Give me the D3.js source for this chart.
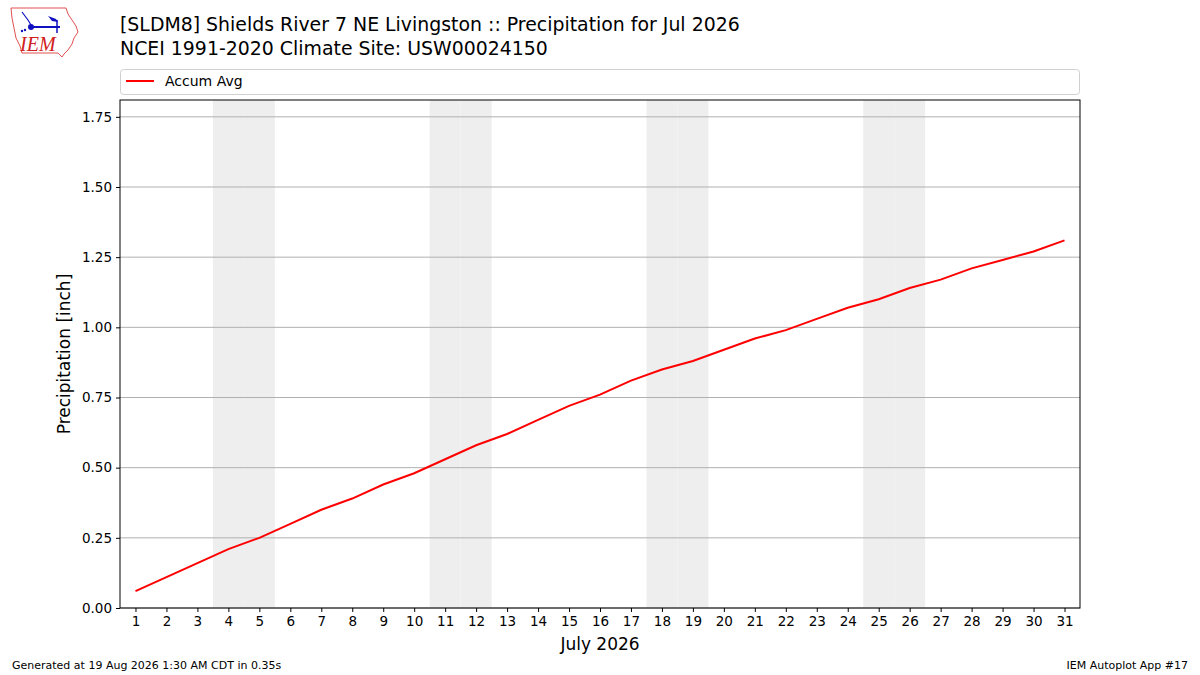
<!DOCTYPE html>
<html><head><meta charset="utf-8">
<script src="https://cdn.jsdelivr.net/npm/d3@7"></script>
<style>body{margin:0;background:#fff;} svg{display:block;font-family:"DejaVu Sans",sans-serif;}</style>
</head><body>
<svg id="c" width="1200" height="675"></svg>
<script>
const days = d3.range(1, 32);
const accumAvg = [0.06,0.11,0.16,0.21,0.25,0.30,0.35,0.39,0.44,0.48,0.53,0.58,0.62,0.67,0.72,0.76,0.81,0.85,0.88,0.92,0.96,0.99,1.03,1.07,1.10,1.14,1.17,1.21,1.24,1.27,1.31];
const weekendDays = [4,5,11,12,18,19,25,26];
const yTicks = [0,0.25,0.5,0.75,1.0,1.25,1.5,1.75];
const titleLines = ["[SLDM8] Shields River 7 NE Livingston :: Precipitation for Jul 2026","NCEI 1991-2020 Climate Site: USW00024150"];
const seriesName = "Accum Avg";

const svg = d3.select("#c");
const L=120,R=1080,T=100,B=608;
const x = d3.scaleLinear().domain([0.5,31.5]).range([L,R]);
const y = d3.scaleLinear().domain([0,1.81]).range([B,T]);

// weekend shading
svg.append("g").selectAll("rect").data(weekendDays).join("rect")
  .attr("x",d=>x(d-0.5)).attr("width",d=>x(d+0.5)-x(d-0.5))
  .attr("y",T).attr("height",B-T).attr("fill","#eeeeee");

// grid
svg.append("g").selectAll("line").data(yTicks).join("line")
  .attr("x1",L).attr("x2",R).attr("y1",d=>y(d)).attr("y2",d=>y(d))
  .attr("stroke","#b0b0b0").attr("stroke-width",1);

// line
svg.append("path").datum(days.map((d,i)=>[d,accumAvg[i]]))
  .attr("fill","none").attr("stroke","#ff0000").attr("stroke-width",2)
  .attr("d",d3.line().x(d=>x(d[0])).y(d=>y(d[1])));

// frame
svg.append("rect").attr("x",L).attr("y",T).attr("width",R-L).attr("height",B-T)
  .attr("fill","none").attr("stroke","#000").attr("stroke-width",1);

// axes
const xa = svg.append("g").attr("transform",`translate(0,${B})`)
  .call(d3.axisBottom(x).tickValues(days).tickFormat(d3.format("d")).tickSize(4).tickPadding(4));
const ya = svg.append("g").attr("transform",`translate(${L},0)`)
  .call(d3.axisLeft(y).tickValues(yTicks).tickFormat(d3.format(".2f")).tickSize(4).tickPadding(4));
[xa,ya].forEach(a=>{a.select(".domain").remove();a.selectAll("text").attr("font-size",13.5).attr("font-family","DejaVu Sans").attr("fill","#000");a.selectAll("line").attr("stroke","#000");});

// labels
svg.append("text").attr("x",(L+R)/2).attr("y",650).attr("text-anchor","middle").attr("font-size",17).text("July 2026");
svg.append("text").attr("transform",`translate(70,${(T+B)/2}) rotate(-90)`).attr("text-anchor","middle").attr("font-size",17).text("Precipitation [inch]");

// title
titleLines.forEach((t,i)=>svg.append("text").attr("x",120).attr("y",31+i*23.5).attr("font-size",18.9).text(t));

// legend
svg.append("rect").attr("x",120.5).attr("y",69.5).attr("width",959).attr("height",25).attr("rx",3)
  .attr("fill","#fff").attr("stroke","#d0d0d0");
svg.append("line").attr("x1",126).attr("x2",154).attr("y1",81).attr("y2",81).attr("stroke","#ff0000").attr("stroke-width",2);
svg.append("text").attr("x",165).attr("y",86).attr("font-size",14).text(seriesName);

// footer
svg.append("text").attr("x",12).attr("y",669).attr("font-size",11).text("Generated at 19 Aug 2026 1:30 AM CDT in 0.35s");
svg.append("text").attr("x",1188).attr("y",669).attr("text-anchor","end").attr("font-size",11).text("IEM Autoplot App #17");

// logo
const lg = svg.append("g");
lg.append("path").attr("d","M11,8 L66,8 L68,14 L72,20 L76,26 L78,32 L74,38 L72,44 L68,50 L64,54 L62,57 L58,53 L22,53 L20,46 L16,38 L14,28 L12,18 Z")
  .attr("fill","none").attr("stroke","#e05050").attr("stroke-width",1);
lg.append("line").attr("x1",30).attr("x2",60).attr("y1",27).attr("y2",27).attr("stroke","#1010c0").attr("stroke-width",2);
lg.append("circle").attr("cx",31).attr("cy",27).attr("r",3).attr("fill","#1010c0");
lg.append("path").attr("d","M48,16 L56,19 L58,22 L52,21 Z").attr("fill","#1010c0");
lg.append("line").attr("x1",57).attr("x2",57).attr("y1",20).attr("y2",33).attr("stroke","#1010c0").attr("stroke-width",1.5);
lg.append("path").attr("d","M22,12 L28,20 L31,25").attr("fill","none").attr("stroke","#1010c0").attr("stroke-width",1.2);
lg.append("circle").attr("cx",25).attr("cy",30).attr("r",1.2).attr("fill","#1010c0");
lg.append("circle").attr("cx",22).attr("cy",31).attr("r",1.2).attr("fill","#1010c0");
lg.append("text").attr("x",20).attr("y",51).attr("font-family","Liberation Serif,serif").attr("font-style","italic").attr("font-size",20).attr("fill","#d02020").text("IEM");
</script>
</body></html>
